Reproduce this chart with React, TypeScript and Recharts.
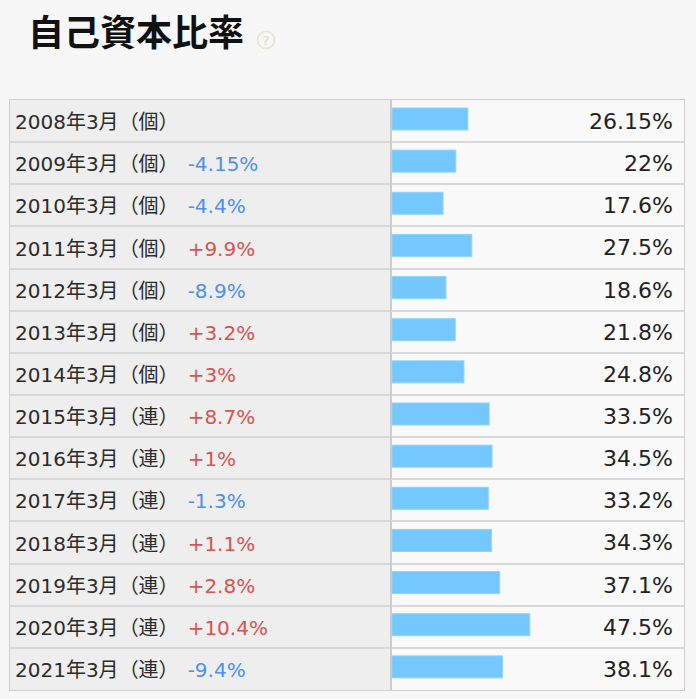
import React from 'react';
import { BarChart, Bar, XAxis, YAxis, LabelList } from 'recharts';

const periods = [
  '2008年3月', '2009年3月', '2010年3月', '2011年3月', '2012年3月', '2013年3月', '2014年3月',
  '2015年3月', '2016年3月', '2017年3月', '2018年3月', '2019年3月', '2020年3月', '2021年3月',
];
const basis = ['個', '個', '個', '個', '個', '個', '個', '連', '連', '連', '連', '連', '連', '連'];
const ratios = [26.15, 22, 17.6, 27.5, 18.6, 21.8, 24.8, 33.5, 34.5, 33.2, 34.3, 37.1, 47.5, 38.1];
const changes: (number | null)[] = [null, -4.15, -4.4, 9.9, -8.9, 3.2, 3, 8.7, 1, -1.3, 1.1, 2.8, 10.4, -9.4];

const data = periods.map((p, i) => ({ period: p, basis: basis[i], ratio: ratios[i], change: changes[i] }));
const byPeriod: Record<string, (typeof data)[number]> = {};
data.forEach((d) => { byPeriod[d.period] = d; });

const W = 696;
const H = 699;
const TOP = 100;
const BOTTOM = 690;
const LEFT = 10;
const RIGHT = 684;
const DIVIDER = 390;
const PLOT_LEFT = 392;
const PLOT_RIGHT = 682;

const latin = "'DejaVu Sans', 'Noto Sans CJK JP', sans-serif";

const RowTick = (props: any) => {
  const { y, payload } = props;
  const d = byPeriod[payload.value];
  if (!d) return null;
  const ch = d.change;
  const chText = ch === null ? '' : (ch > 0 ? '+' : '') + String(ch) + '%';
  return (
    <text x={15} y={y + 8} fontSize={20} fontFamily={latin} fill="#2b2b2b">
      <tspan>{d.period}</tspan>
      <tspan>{'（' + d.basis + '）'}</tspan>
      {chText && (
        <tspan dx={9} fill={ch! > 0 ? '#d9534f' : '#4d90f2'}>{chText}</tspan>
      )}
    </text>
  );
};

const ValueLabel = (props: any) => {
  const { y, height, value } = props;
  return (
    <text x={673} y={y + height / 2 + 8} textAnchor="end" fontSize={22} fontFamily={latin} fill="#222">
      {String(value) + '%'}
    </text>
  );
};

const BarShape = (props: any) => {
  const { x, y, width, height } = props;
  return <rect x={x} y={y - 2} width={width} height={height} fill="#74c8fd" stroke="#8ed3fd" strokeWidth={1} />;
};

export default function App() {
  const n = data.length;
  const rowH = (BOTTOM - TOP) / n;
  return (
    <div style={{ position: 'absolute', left: 0, top: 0, width: W, height: H, background: '#f7f7f7', overflow: 'hidden' }}>
      <div
        style={{
          position: 'absolute', left: 28, top: 6, fontSize: 36, lineHeight: '48px', fontWeight: 700,
          fontFamily: "'Noto Sans CJK JP', sans-serif", color: '#111', letterSpacing: 0,
        }}
      >
        自己資本比率
      </div>
      <svg style={{ position: 'absolute', left: 256, top: 30 }} width={20} height={20}>
        <circle cx={10} cy={10} r={8.5} fill="none" stroke="#e9e2d4" strokeWidth={1.6} />
        <text x={10} y={14.5} textAnchor="middle" fontSize={13} fontFamily={latin} fill="#e9e2d4" fontWeight={700}>?</text>
      </svg>
      <div
        style={{
          position: 'absolute', left: LEFT - 1, top: TOP - 1, width: RIGHT - LEFT, height: BOTTOM - TOP,
          border: '1px solid #cfcfcf', background: '#f9f9f9',
        }}
      />
      {data.map((d, i) => (
        <div key={d.period}>
          <div
            style={{
              position: 'absolute', left: LEFT, top: TOP + i * rowH, width: DIVIDER - LEFT, height: rowH,
              background: '#eeeeee',
            }}
          />
          {i > 0 && (
            <div
              style={{
                position: 'absolute', left: LEFT, top: TOP + i * rowH - 1, width: RIGHT - LEFT, height: 2,
                background: '#d8d8d8',
              }}
            />
          )}
        </div>
      ))}
      <div style={{ position: 'absolute', left: DIVIDER, top: TOP, width: 2, height: BOTTOM - TOP, background: '#cccccc' }} />
      <div style={{ position: 'absolute', left: 0, top: 0 }}>
        <BarChart
          width={W}
          height={H}
          data={data}
          layout="vertical"
          margin={{ top: TOP, bottom: H - BOTTOM, left: LEFT, right: W - PLOT_RIGHT }}
          barCategoryGap={0}
        >
          <XAxis type="number" domain={[0, 100]} hide />
          <YAxis
            type="category"
            dataKey="period"
            width={PLOT_LEFT - LEFT}
            axisLine={false}
            tickLine={false}
            tick={<RowTick />}
            interval={0}
          />
          <Bar dataKey="ratio" fill="#74c8fd" barSize={22} isAnimationActive={false} shape={<BarShape />}>
            <LabelList dataKey="ratio" content={<ValueLabel />} />
          </Bar>
        </BarChart>
      </div>
    </div>
  );
}
